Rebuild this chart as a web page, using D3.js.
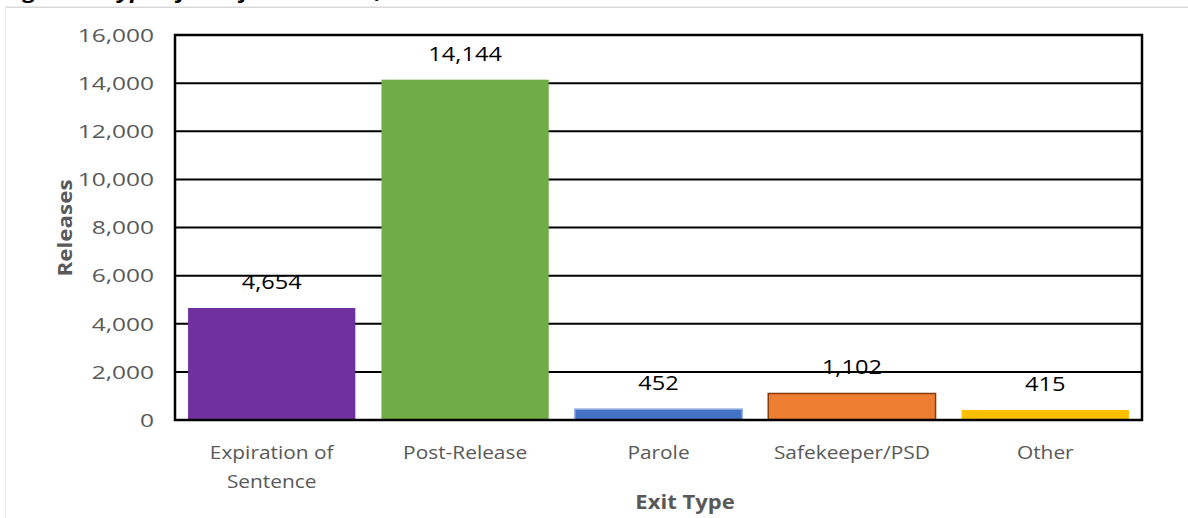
<!DOCTYPE html>
<html><head><meta charset="utf-8">
<script src="https://cdn.jsdelivr.net/npm/d3@7"></script>
<style>
html,body{margin:0;padding:0;background:#fff;}
svg{display:block;}
text{font-family:"Open Sans",Lato,sans-serif;}
</style></head>
<body>
<svg id="c" width="1188" height="518"></svg>
<script>
const categories = ["Expiration of Sentence", "Post-Release", "Parole", "Safekeeper/PSD", "Other"];
const categoryLines = [["Expiration of", "Sentence"], ["Post-Release"], ["Parole"], ["Safekeeper/PSD"], ["Other"]];
const releases = [4654, 14144, 452, 1102, 415];
const barColors = ["#7030A0", "#70AD47", "#4472C4", "#ED7D31", "#FFC000"];
const barStrokes = ["none", "none", "#8FAADC", "#843C0C", "none"];
const yTicks = [0, 2000, 4000, 6000, 8000, 10000, 12000, 14000, 16000];
const titleText = "Figure 1: Type of Exit for Releases, FY 2019-20";
const xTitle = "Exit Type";
const yTitle = "Releases";

const svg = d3.select("#c");
const L = 175, R = 1142, T = 35, B = 420;
const tr = (x, y, k) => `translate(${x},${y}) scale(${k},1)`;

// outer frame
svg.append("path").attr("d", "M6.5,518 V7.5 H1188").attr("fill", "none").attr("stroke", "#d9d9d9").attr("stroke-width", 2);
// clipped title (only descenders visible above the frame)
svg.append("text").attr("transform", tr(4, -2, 1.18)).attr("font-size", 20).attr("font-weight", "bold")
  .attr("font-style", "italic").attr("fill", "#000").text(titleText);
svg.append("rect").attr("x", 6).attr("y", 8).attr("width", 1182).attr("height", 510).attr("fill", "#fff");

const x = d3.scaleBand().domain(categories).range([L, R]).paddingInner(0.135).paddingOuter(0.0675);
const y = d3.scaleLinear().domain([0, 16000]).range([B, T]);
const fmt = d3.format(",");

// gridlines
svg.append("g").selectAll("line").data(yTicks).join("line")
  .attr("x1", L).attr("x2", R).attr("y1", d => y(d)).attr("y2", d => y(d))
  .attr("stroke", "#000").attr("stroke-width", 2);

// y tick labels
svg.append("g").selectAll("text").data(yTicks).join("text")
  .attr("transform", d => tr(154, y(d), 1.29)).attr("dy", "0.36em").attr("text-anchor", "end")
  .attr("font-size", 19).attr("fill", "#595959").text(d => fmt(d));

// bars
svg.append("g").selectAll("rect").data(releases).join("rect")
  .attr("x", (d, i) => x(categories[i])).attr("width", x.bandwidth())
  .attr("y", d => y(d)).attr("height", d => B - y(d))
  .attr("fill", (d, i) => barColors[i])
  .attr("stroke", (d, i) => barStrokes[i]).attr("stroke-width", 1.5);

// plot border
svg.append("rect").attr("x", L).attr("y", T).attr("width", R - L).attr("height", B - T)
  .attr("fill", "none").attr("stroke", "#000").attr("stroke-width", 2.5);

// value labels
svg.append("g").selectAll("text").data(releases).join("text")
  .attr("transform", (d, i) => tr(x(categories[i]) + x.bandwidth() / 2, y(d) - 19, 1.18))
  .attr("text-anchor", "middle").attr("font-size", 20).attr("fill", "#000").text(d => fmt(d));

// x labels
const xl = svg.append("g").selectAll("text").data(categoryLines).join("text")
  .attr("transform", (d, i) => tr(x(categories[i]) + x.bandwidth() / 2, 459, 1.16))
  .attr("text-anchor", "middle").attr("font-size", 18).attr("fill", "#595959");
xl.selectAll("tspan").data(d => d).join("tspan")
  .attr("x", 0).attr("dy", (d, i) => i === 0 ? 0 : 29).text(d => d);

// axis titles
svg.append("text").attr("transform", tr(685, 509, 1.16)).attr("text-anchor", "middle")
  .attr("font-size", 19).attr("font-weight", "bold").attr("fill", "#595959").text(xTitle);
svg.append("text").attr("transform", "translate(72,228) rotate(-90) scale(1.12,1)").attr("text-anchor", "middle")
  .attr("font-size", 20).attr("font-weight", "bold").attr("fill", "#595959").text(yTitle);
</script>
</body></html>
